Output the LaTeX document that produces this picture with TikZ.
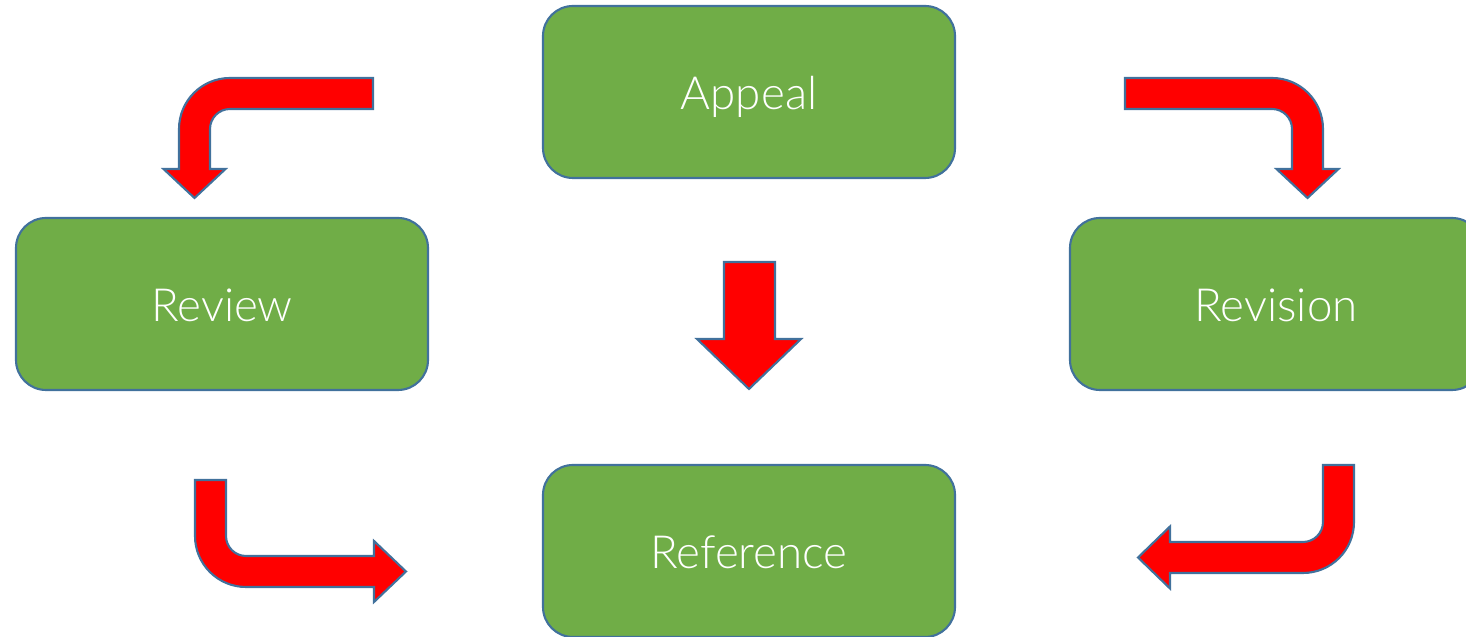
\documentclass[tikz,border=0pt]{standalone}
\usepackage{fontspec}
\setmainfont{Lato}[UprightFont=* Light]
\usepackage{tikz}
\usetikzlibrary{positioning}
\definecolor{boxgreen}{HTML}{70AD47}
\definecolor{edgeblue}{HTML}{41719C}
\definecolor{arrowred}{HTML}{FF0000}

\begin{document}
\begin{tikzpicture}[
    stagebox/.style={rectangle, rounded corners=0.6cm, draw=edgeblue, line width=1.2pt, fill=boxgreen, text=white, minimum width=8.24cm, minimum height=3.44cm, text height=0.72cm, text depth=0pt, font=\fontsize{26}{30}\selectfont},
    blockarrow/.style={draw=edgeblue, line width=1.2pt, fill=arrowred, line join=miter}
]
\useasboundingbox (0,0) rectangle (29.32,12.74);

% boxes
\node[stagebox] (appeal) at (14.98,10.90) {Appeal};
\node[stagebox] (review) at (4.44,6.66) {Review};
\node[stagebox] (revision) at (25.52,6.66) {Revision};
\node[stagebox] (reference) at (14.98,1.72) {Reference};

% bent arrows
\draw[blockarrow] (7.46,11.18) -- (4.60,11.18) arc(90:180:1.02) -- (3.58,9.36) -- (3.27,9.36) -- (3.89,8.78) -- (4.51,9.36) -- (4.20,9.36) -- (4.20,10.16) arc(180:90:0.4) -- (7.46,10.56) -- cycle;
\draw[blockarrow] (22.50,11.18) -- (25.44,11.18) arc(90:0:1.02) -- (26.46,9.36) -- (26.77,9.36) -- (26.15,8.78) -- (25.53,9.36) -- (25.84,9.36) -- (25.84,10.16) arc(0:90:0.4) -- (22.50,10.56) -- cycle;
\draw[blockarrow] (3.90,3.14) -- (3.90,2.02) arc(180:270:1.02) -- (7.48,1.00) -- (7.48,0.70) -- (8.12,1.31) -- (7.48,1.92) -- (7.48,1.62) -- (4.92,1.62) arc(270:180:0.4) -- (4.52,3.14) -- cycle;
\draw[blockarrow] (26.46,3.44) -- (27.08,3.44) -- (27.08,2.30) arc(0:-90:1.02) -- (23.40,1.28) -- (23.40,0.97) -- (22.76,1.59) -- (23.40,2.21) -- (23.40,1.90) -- (26.06,1.90) arc(270:360:0.4) -- cycle;

% straight arrow
\draw[blockarrow] (14.48,7.50) -- (15.50,7.50) -- (15.50,5.96) -- (16.02,5.96) -- (14.98,4.96) -- (13.94,5.96) -- (14.48,5.96) -- cycle;

\end{tikzpicture}
\end{document}
